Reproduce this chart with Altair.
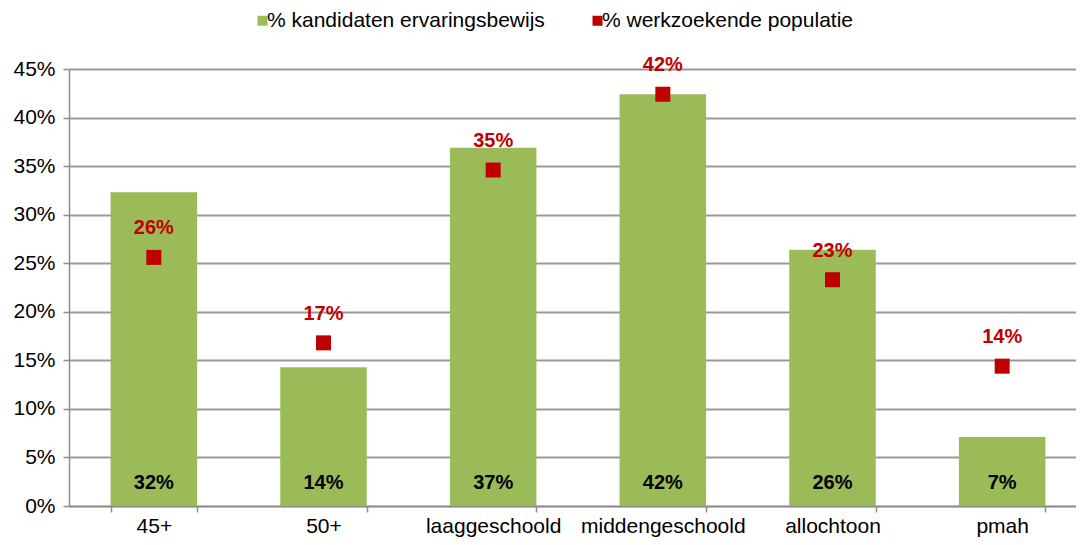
import altair as alt
import pandas as pd

categories = ["45+", "50+", "laaggeschoold", "middengeschoold", "allochtoon", "pmah"]
kandidaten = [0.323, 0.143, 0.369, 0.424, 0.264, 0.071]
werkzoekend = [0.256, 0.168, 0.346, 0.424, 0.233, 0.144]
series_names = ["% kandidaten ervaringsbewijs", "% werkzoekende populatie"]
y_ticks = [0, 0.05, 0.10, 0.15, 0.20, 0.25, 0.30, 0.35, 0.40, 0.45]

GREEN = "#9BBB59"
RED = "#C00000"
FONT = "Liberation Sans"
GRAY = "#8C8C8C"

rows = []
for c, k, w in zip(categories, kandidaten, werkzoekend):
    rows.append({"cat": c, "series": series_names[0], "value": k})
    rows.append({"cat": c, "series": series_names[1], "value": w})
df = pd.DataFrame(rows)

x_enc = alt.X("cat:N", sort=categories, title=None,
              scale=alt.Scale(paddingInner=0.49, paddingOuter=0.245, range=[0, 1018]),
              axis=alt.Axis(labelAngle=0, labelFontSize=21, labelColor="#000000",
                            labelFont=FONT, labelPadding=3, tickBand="extent",
                            tickSize=6, tickColor=GRAY, tickWidth=1.5,
                            domainColor=GRAY, domainWidth=1.5, grid=False))
y_scale = alt.Scale(domain=[0, 0.45], nice=False)
color_enc = alt.Color("series:N", title=None,
                      scale=alt.Scale(domain=series_names, range=[GREEN, RED]),
                      legend=alt.Legend(orient="none", legendX=183, legendY=-59,
                                        direction="horizontal", symbolType="square",
                                        symbolSize=100, labelFontSize=21, labelFont=FONT,
                                        labelColor="#000000",
                                        labelOffset={"expr": "-6"},
                                        labelLimit=500, columnPadding=42,
                                        symbolStrokeWidth=0))

base = alt.Chart(df).encode(x=x_enc)

bars = base.transform_filter(alt.datum.series == series_names[0]).mark_bar(
    color=GREEN).encode(
    y=alt.Y("value:Q", scale=y_scale, title=None,
            axis=alt.Axis(values=y_ticks, format=".0%", labelFontSize=21,
                          labelColor="#000000", labelFont=FONT, labelPadding=8,
                          tickSize=6, tickColor=GRAY, tickWidth=1.5,
                          domainColor=GRAY, domainWidth=1.5,
                          gridColor="#999999", gridWidth=1.8)),
    color=color_enc,
)

bar_labels = base.transform_filter(alt.datum.series == series_names[0]).mark_text(
    font=FONT, fontSize=20, fontWeight="bold", color="#000000", dy=-23,
    baseline="middle").encode(
    y=alt.datum(0),
    text=alt.Text("value:Q", format=".0%"),
)

points = base.transform_filter(alt.datum.series == series_names[1]).mark_square(
    size=225, opacity=1, filled=True).encode(
    y=alt.Y("value:Q", scale=y_scale),
    color=color_enc,
)

point_labels = base.transform_filter(alt.datum.series == series_names[1]).mark_text(
    font=FONT, fontSize=20, fontWeight="bold", color=RED, dy=-29,
    baseline="middle").encode(
    y=alt.Y("value:Q", scale=y_scale),
    text=alt.Text("value:Q", format=".0%"),
)

chart = alt.layer(bars, bar_labels, points, point_labels).properties(
    width=1007, height=437,
    autosize=alt.AutoSizeParams(type="none"),
    padding={"left": 61, "top": 61, "right": 0, "bottom": 31},
).configure_view(stroke=None).configure(background="white")

chart.save("out.html", embed_options={"renderer": "svg", "actions": False})
